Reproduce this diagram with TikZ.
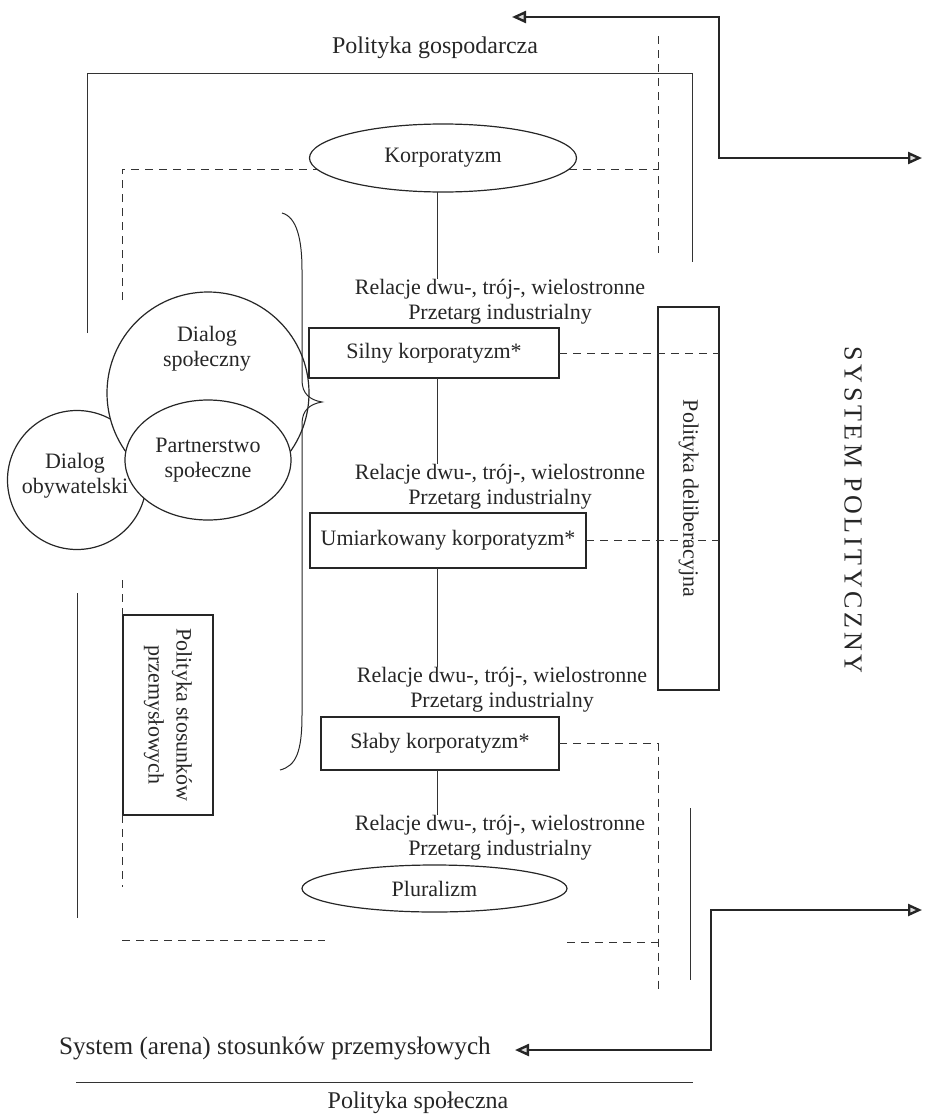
\documentclass[tikz,border=0pt]{standalone}
\usepackage{fontspec}
\setmainfont{Liberation Serif}
\usetikzlibrary{shapes.geometric,arrows.meta}
\begin{document}
\begin{tikzpicture}[x=0.5pt,y=-0.5pt,
  every node/.style={inner sep=0pt, outer sep=0pt},
  txt/.style={font=\fontsize{11}{12.5}\selectfont, align=center, text=black!85},
  big/.style={font=\fontsize{12}{14}\selectfont, text=black!85},
  boxn/.style={draw=black!85, line width=0.6pt, rectangle, txt},
  elln/.style={draw=black!85, ellipse, line width=0.6pt, txt},
  frameline/.style={line width=0.5pt, draw=black!80},
  dashline/.style={line width=0.5pt, draw=black!80, dash pattern=on 4pt off 3pt},
  bigarrow/.style={line width=1.2pt, draw=black!85,
    {Triangle[open, length=7pt, width=6pt, fill=gray!25]}-{Triangle[open, length=7pt, width=6pt, fill=gray!25]}}
]
\useasboundingbox (0,0) rectangle (925,1119);

% ---- circles (left) ----
\node[circle, draw=black!85, line width=0.6pt, minimum size=69.5pt] (obyw) at (77,480) {};
\node[txt] (obywt) at (75,476) {Dialog\\obywatelski};
\node[circle, draw=black!85, fill=white, line width=0.6pt, minimum size=101pt] (dspol) at (208,393) {};
\node[txt] (dspolt) at (207,349) {Dialog\\społeczny};
\node[elln, fill=white, minimum width=83pt, minimum height=60pt] (partn) at (208,460) {Partnerstwo\\społeczne};

% ---- headings ----
\node[big] (gosp) at (435,48) {Polityka gospodarcza};
\node[big, font=\fontsize{12.6}{14}\selectfont, anchor=west] (arena) at (59,1048) {System (arena) stosunków przemysłowych};
\node[big] (spol) at (418,1103) {Polityka społeczna};
\node[font=\fontsize{13}{14}\selectfont\addfontfeature{LetterSpace=14}, text=black!85, rotate=-90] (syspol) at (853,510) {SYSTEM POLITYCZNY};

% ---- central column ----
\node[elln, minimum width=133.5pt, minimum height=34pt] (korp) at (443,158) {Korporatyzm};
\node[txt] (rel1) at (500,302) {Relacje dwu-, trój-, wielostronne\\Przetarg industrialny};
\node[boxn, minimum width=125pt, minimum height=25pt] (silny) at (434,353) {Silny korporatyzm*};
\node[txt] (rel2) at (500,487) {Relacje dwu-, trój-, wielostronne\\Przetarg industrialny};
\node[boxn, minimum width=138pt, minimum height=27.5pt] (umiar) at (448,540.5) {Umiarkowany korporatyzm*};
\node[txt] (rel3) at (502,690) {Relacje dwu-, trój-, wielostronne\\Przetarg industrialny};
\node[boxn, minimum width=119pt, minimum height=26.5pt] (slaby) at (440,743.5) {Słaby korporatyzm*};
\node[txt] (rel4) at (500,838) {Relacje dwu-, trój-, wielostronne\\Przetarg industrialny};
\node[elln, minimum width=132.5pt, minimum height=23.5pt] (plural) at (434.5,888.5) {Pluralizm};

% ---- side boxes ----
\node[boxn, rotate=-90, minimum width=191.5pt, minimum height=30.5pt] (delib) at (688.5,498.5) {Polityka deliberacyjna};
\node[boxn, rotate=-90, minimum width=100pt, minimum height=45pt, font=\fontsize{11}{14}\selectfont] (stos) at (168,715) {Polityka stosunków\\przemysłowych};

% ---- coordinates ----
\coordinate (axis) at (437,0);
\coordinate (ldtop) at (122,300);
\coordinate (rdtop) at (658,36);
\coordinate (rdbot) at (658,253);
\coordinate (sdcol) at (658,747);
\coordinate (sdend) at (658,992);
\coordinate (ls1) at (122,580);
\coordinate (ls2) at (122,887);
\coordinate (bl1) at (122,940);
\coordinate (bl2) at (325,940);
\coordinate (br1) at (567,942);
\coordinate (br2) at (658,942);
\coordinate (fr1) at (87,333);
\coordinate (fr2) at (692,262);
\coordinate (lv1) at (77,593);
\coordinate (lv2) at (77,918);
\coordinate (rv1) at (690,808);
\coordinate (rv2) at (690,980);
\coordinate (hl1) at (76,1082);
\coordinate (hl2) at (693,1082);
\coordinate (taL) at (512,17);
\coordinate (taR) at (922,158);
\coordinate (baR) at (922,910);
\coordinate (baL) at (515,1050);

% ---- solid frame lines ----
\draw[frameline] (fr1) -- (87,73) -- (692,73) -- (fr2);
\draw[frameline] (lv1) -- (lv2);
\draw[frameline] (rv1) -- (rv2);
\draw[frameline] (hl1) -- (hl2);

% ---- dashed lines ----
\draw[dashline] (ldtop) |- (korp.185);
\draw[dashline] (korp.-5) -- (korp.-5 -| rdtop);
\draw[dashline] (rdtop) -- (rdbot);
\draw[dashline] (silny.east) -- (silny.east -| delib.north);
\draw[dashline] (umiar.east) -- (umiar.east -| delib.north);
\draw[dashline] (slaby.east) -- (slaby.east -| sdcol) -- (sdend);
\draw[dashline] (ls1) -- (stos.west -| ls1);
\draw[dashline] (stos.east -| ls2) -- (ls2);
\draw[dashline] (bl1) -- (bl2);
\draw[dashline] (br1) -- (br2);

% ---- vertical connectors ----
\draw[frameline] (korp.south -| axis) -- (rel1.north -| axis);
\draw[frameline] (silny.south -| axis) -- (rel2.north -| axis);
\draw[frameline] (umiar.south -| axis) -- (rel3.north -| axis);
\draw[frameline] (slaby.south -| axis) -- (rel4.north -| axis);

% ---- brace ----
\draw[line width=0.5pt, black!85] (282,213) .. controls (297,217) and (302,240) .. (302,270)
  -- (302,380) .. controls (302,394) and (310,400) .. (322,402)
  .. controls (310,404) and (302,410) .. (302,424)
  -- (302,715) .. controls (302,752) and (296,766) .. (280,770);

% ---- big arrows ----
\draw[bigarrow] (taL) -- (719,17) -- (719,158) -- (taR);
\draw[bigarrow] (baR) -- (711,910) -- (711,1050) -- (baL);
\end{tikzpicture}
\end{document}
